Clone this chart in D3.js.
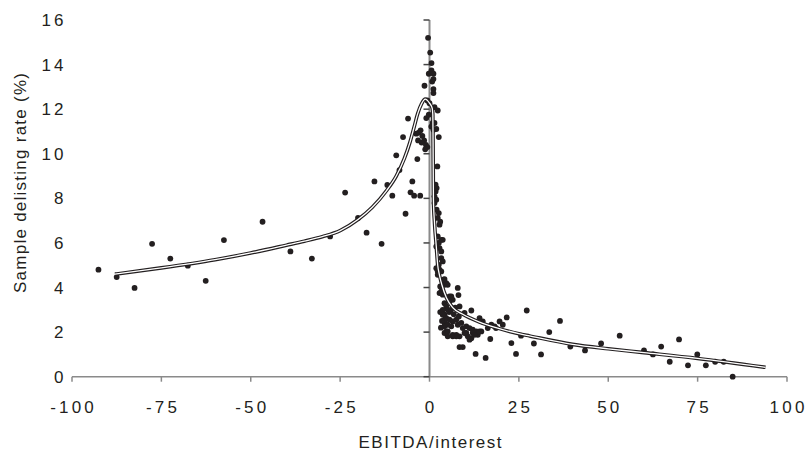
<!DOCTYPE html>
<html>
<head>
<meta charset="utf-8">
<script src="https://cdn.jsdelivr.net/npm/d3@7"></script>
<style>
  html, body { margin: 0; padding: 0; background: #fff; }
  svg { display: block; font-family: "Liberation Sans", Arial, Helvetica, sans-serif; }
</style>
</head>
<body>
<svg id="chart" width="807" height="453"></svg>
<script>
// ---- data ----
const xTicks = [-100, -75, -50, -25, 0, 25, 50, 75, 100];
const yTicks = [0, 2, 4, 6, 8, 10, 12, 14, 16];
const xTitle = "EBITDA/interest";
const yTitle = "Sample delisting rate (%)";

// scatter points (EBITDA/interest, delisting rate %)
const pointsX = [
  -92.6,-87.5,-82.5,-77.6,-72.5,-67.6,-62.6,-57.5,-46.7,-38.9,-32.9,-27.8,-23.6,-20.0,-17.6,-15.4,-13.4,-11.8,-10.4,-9.3,
  -8.4,-7.4,-6.7,-6.0,-5.3,-4.8,-4.3,-3.4,-2.6,
  -3.7,-3.0,-2.5,-2.0,-1.5,-1.0,-0.6,-3.2,-2.2,-1.2,
  -1.4,-0.9,-0.6,-0.4,-0.2,-0.2,0.0,0.2,0.56,0.56,0.75,1.1,1.1,1.1,1.1,1.4,2.3,0.9,1.4,0.5,1.1,1.9,2.6,2.2,
  1.7,2.0,1.7,1.4,1.9,1.4,2.0,2.6,2.3,2.8,3.0,2.3,3.3,2.6,3.7,2.8,1.9,3.3,3.3,3.7,2.6,2.8,1.9,2.3,4.2,3.3,2.3,
  3.7,4.2,4.7,3.0,2.8,3.7,5.1,3.9,
  7.9,8.1,6.1,6.5,5.6,4.2,4.7,5.1,3.7,4.2,8.4,9.8,11.7,3.3,5.6,6.1,
  4.7,5.6,6.5,4.2,5.1,6.1,7.5,7.9,8.9,9.3,10.3,11.2,12.1,13.1,14.0,14.9,16.3,17.3,18.2,19.6,20.5,21.6,
  4.7,4.2,6.5,7.5,8.4,10.3,10.7,11.7,12.1,13.5,14.5,11.2,17.0,8.4,9.3,12.9,15.7,22.9,24.2,25.6,27.2,36.5,
  29.2,31.2,33.5,39.4,43.5,48.0,53.2,60.0,62.5,64.8,67.2,69.8,72.3,74.9,77.3,79.9,82.3,84.8,
  3.7,4.2,4.2,5.1,5.1,6.5,7.5,9.8,12.6,14.0,3.0,3.5,3.2,5.5,6.8,7.2,6.0,8.2,18.6
];
const pointsY = [
  4.80,4.47,3.98,5.96,5.30,4.98,4.30,6.13,6.95,5.62,5.30,6.29,8.26,7.12,6.46,8.76,5.96,8.60,8.12,9.93,
  9.27,10.75,7.31,11.58,8.27,8.76,8.12,9.76,8.12,
  10.90,10.95,11.05,10.80,10.60,10.40,10.30,10.60,10.50,10.20,
  13.05,11.60,12.39,15.20,13.59,11.75,12.27,14.54,14.07,13.74,13.24,13.59,13.35,12.90,12.72,12.09,11.94,11.38,11.38,11.22,11.08,11.11,10.75,9.43,
  8.61,8.46,8.31,8.09,7.94,7.79,7.49,7.34,7.12,6.82,6.95,6.29,6.14,6.00,6.14,5.77,5.84,5.62,5.32,5.17,5.02,4.80,4.87,4.57,4.38,4.72,4.72,
  4.27,4.12,4.20,4.05,3.75,3.68,4.12,4.35,
  3.98,3.66,3.60,3.45,3.38,3.30,3.15,3.00,3.00,2.78,3.15,2.86,2.97,3.83,3.60,3.53,
  2.63,2.56,2.48,2.41,2.33,2.26,2.56,2.33,2.41,2.18,2.26,2.18,2.11,2.03,2.63,2.48,2.18,2.33,2.26,2.48,2.33,2.66,
  2.03,1.96,1.88,1.88,1.81,1.96,1.81,1.73,1.96,1.88,2.03,1.66,1.69,1.33,1.33,1.02,0.84,1.51,1.02,1.84,2.97,2.50,
  1.49,1.00,2.00,1.35,1.18,1.49,1.84,1.18,1.00,1.35,0.67,1.67,0.51,1.00,0.51,0.67,0.67,0.00,
  2.78,2.56,2.26,2.03,1.81,1.81,1.81,1.96,1.88,2.03,2.90,2.50,2.20,2.90,2.80,3.10,3.00,2.70,2.18
];

// fitted curve
const curveX = [-88,-75,-60,-50,-40,-35,-30,-25,-20,-16,-12,-9.3,-7,-5.5,-4.3,-3.3,-2.2,-1.2,0,0.75,0.93,1.0,1.05,1.1,1.4,1.9,2.3,2.8,3.5,4.7,6.5,9.3,14,18.6,25,28,40,50,60,75,94];
const curveY = [4.6,4.88,5.25,5.55,5.9,6.08,6.28,6.55,7.05,7.6,8.35,9.0,9.8,10.5,11.2,11.8,12.25,12.45,12.27,12.05,11.75,10.5,9.2,7.94,6.9,5.84,5.0,4.55,4.1,3.55,3.1,2.8,2.45,2.2,1.93,1.83,1.45,1.25,1.08,0.82,0.42];

// ---- drawing ----
const svg = d3.select("#chart");
const x = d3.scaleLinear().domain([-100, 100]).range([72, 787]);
const y = d3.scaleLinear().domain([0, 16]).range([376.7, 20]);

const axisGrey = "#8a8a8a";
const ink = "#231f20";

// x axis (at y = 0)
const xAxisG = svg.append("g").attr("transform", `translate(0,${y(0)})`);
xAxisG.append("line").attr("x1", x(-100)).attr("x2", x(100))
  .attr("stroke", axisGrey).attr("stroke-width", 1.5);
xAxisG.selectAll("line.tick").data(xTicks).join("line").attr("class", "tick")
  .attr("x1", d => x(d)).attr("x2", d => x(d)).attr("y1", 0).attr("y2", 5)
  .attr("stroke", axisGrey).attr("stroke-width", 1.5);
const ls = 3.2;
xAxisG.selectAll("text").data(xTicks).join("text")
  .attr("x", d => x(d) + ls / 2).attr("y", 36.5)
  .attr("text-anchor", "middle")
  .attr("font-size", 17).attr("letter-spacing", ls)
  .attr("fill", ink)
  .text(d => d);

// y axis (at x = 0)
const yAxisG = svg.append("g");
yAxisG.append("line").attr("x1", x(0)).attr("x2", x(0)).attr("y1", y(16)).attr("y2", y(0))
  .attr("stroke", axisGrey).attr("stroke-width", 2);
yAxisG.selectAll("line.tick").data(yTicks).join("line").attr("class", "tick")
  .attr("x1", x(0) - 6).attr("x2", x(0)).attr("y1", d => y(d)).attr("y2", d => y(d))
  .attr("stroke", "#444").attr("stroke-width", 1.5);
yAxisG.selectAll("text").data(yTicks).join("text")
  .attr("x", 63.5 + ls).attr("y", d => y(d)).attr("dy", "0.36em")
  .attr("text-anchor", "end")
  .attr("font-size", 17).attr("letter-spacing", ls)
  .attr("fill", ink)
  .text(d => d);

// titles
svg.append("text").attr("x", 430).attr("y", 448)
  .attr("text-anchor", "middle").attr("font-size", 17)
  .attr("textLength", 143).attr("lengthAdjust", "spacing")
  .attr("fill", ink).text(xTitle);
svg.append("text")
  .attr("transform", `translate(25.5,183) rotate(-90)`)
  .attr("text-anchor", "middle").attr("font-size", 17)
  .attr("textLength", 220).attr("lengthAdjust", "spacing")
  .attr("fill", ink).text(yTitle);

// points
const pts = pointsX.map((d, i) => [d, pointsY[i]]);
svg.append("g").selectAll("circle").data(pts).join("circle")
  .attr("cx", d => x(d[0])).attr("cy", d => y(d[1])).attr("r", 2.9)
  .attr("fill", ink);

// fitted curve (double line)
const curvePts = curveX.map((d, i) => [d, curveY[i]]);
const line = d3.line().x(d => x(d[0])).y(d => y(d[1])).curve(d3.curveMonotoneX);
svg.append("path").attr("d", line(curvePts)).attr("fill", "none")
  .attr("stroke", ink).attr("stroke-width", 3.6);
svg.append("path").attr("d", line(curvePts)).attr("fill", "none")
  .attr("stroke", "#fff").attr("stroke-width", 1.3);
</script>
</body>
</html>
